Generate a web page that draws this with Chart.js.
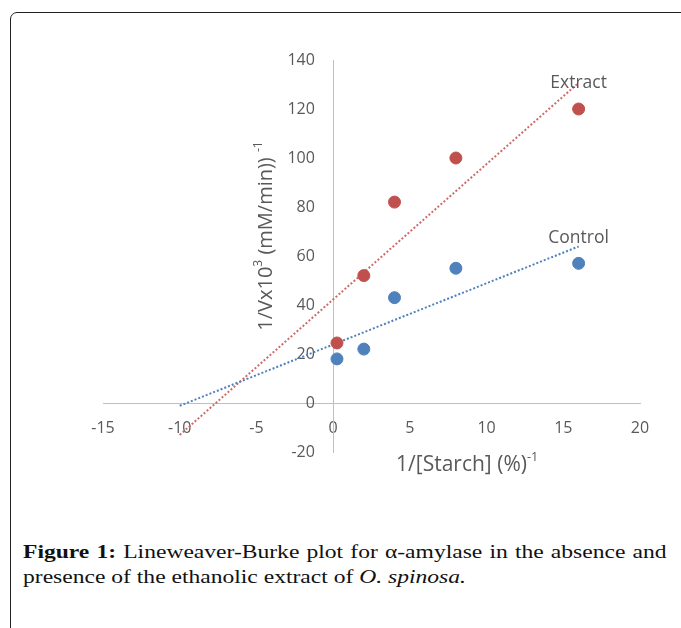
<!DOCTYPE html>
<html>
<head>
<meta charset="utf-8">
<script src="https://cdn.jsdelivr.net/npm/chart.js@4.4.1/dist/chart.umd.min.js"></script>
<style>
    html, body { margin: 0; padding: 0; background: #fff; }
    body { width: 681px; height: 628px; position: relative; overflow: hidden; }
    #frame {
        position: absolute; left: 10px; top: 12px; width: 720px; height: 700px;
        border: 1.5px solid #222; border-top-left-radius: 7px; box-sizing: border-box;
    }
    #chartBox { position: absolute; left: 0; top: 0; width: 681px; height: 500px; }
    #caption {
        position: absolute; left: 23px; top: 539px; width: 519px;
        transform: scaleX(1.24); transform-origin: 0 0;
        font-family: "Liberation Serif", "Times New Roman", serif; font-size: 19px;
        line-height: 25px; color: #111;
    }
    #caption .l1 { text-align: justify; text-align-last: justify; }
</style>
</head>
<body>
<div id="frame"></div>
<div id="chartBox"><canvas id="lbChart"></canvas></div>
<div id="caption">
    <div class="l1"><b>Figure 1:</b> Lineweaver-Burke plot for α-amylase in the absence and</div>
    <div>presence of the ethanolic extract of <i>O. spinosa.</i></div>
</div>

<script>
/*====================================
        Lineweaver-Burk data
====================================*/

const starchInv = [0.25, 2, 4, 8, 16];
const controlInvV = [18, 22, 43, 55, 57];
const extractInvV = [24.5, 52, 82, 100, 120];

const seriesNames = ["Control", "Extract"];
const xRange = [-15, 20];
const yRange = [-20, 140];
const trendRange = [-10, 16];

const blue = "#4f81bd";
const red = "#c0504d";

// least squares, like the Excel linear trendline
function fitLine(xs, ys) {
    const n = xs.length;
    const mx = xs.reduce((a, b) => a + b, 0) / n;
    const my = ys.reduce((a, b) => a + b, 0) / n;
    let sxy = 0, sxx = 0;
    xs.forEach((x, i) => {
        sxy += (x - mx) * (ys[i] - my);
        sxx += (x - mx) * (x - mx);
    });
    const slope = sxy / sxx;
    const icpt = my - slope * mx;
    return trendRange.map(x => ({ x: x, y: icpt + slope * x }));
}

function points(xs, ys) {
    return xs.map((x, i) => ({ x: x, y: ys[i] }));
}

// text with superscript parts, centred on the origin
function drawParts(ctx, parts, size) {
    let total = 0;
    parts.forEach(p => {
        ctx.font = (p.sup ? size * 0.6 : size) + "px 'Open Sans'";
        total += ctx.measureText(p.t).width;
    });
    let pos = -total / 2;
    parts.forEach(p => {
        ctx.font = (p.sup ? size * 0.6 : size) + "px 'Open Sans'";
        ctx.fillText(p.t, pos, p.sup ? -size * 0.36 : 0);
        pos += ctx.measureText(p.t).width;
    });
}

const labelsPlugin = {
    id: "labels",
    afterDatasetsDraw(chart) {
        const { ctx } = chart;
        const xs = chart.scales.x;
        const ys = chart.scales.y;
        const x0 = xs.getPixelForValue(0);
        const y0 = ys.getPixelForValue(0);

        ctx.save();
        ctx.fillStyle = "#595959";
        ctx.textAlign = "left";
        ctx.textBaseline = "middle";

        // trendline names
        const offsets = [-8, 0];
        [2, 3].forEach((di, k) => {
            const end = chart.data.datasets[di].data[1];
            ctx.save();
            ctx.translate(xs.getPixelForValue(end.x), ys.getPixelForValue(end.y) + offsets[k]);
            drawParts(ctx, [{ t: seriesNames[k] }], 17.5);
            ctx.restore();
        });

        // x title
        ctx.save();
        ctx.translate(x0 + 134, y0 + 62);
        drawParts(ctx, [{ t: "1/[Starch] (%)" }, { t: "-1", sup: true }], 21);
        ctx.restore();

        // y title
        ctx.save();
        ctx.translate(x0 - 67, 236);
        ctx.rotate(-Math.PI / 2);
        drawParts(ctx, [{ t: "1/Vx10" }, { t: "3", sup: true }, { t: " (mM/min)) " }, { t: "-1", sup: true }], 20);
        ctx.restore();

        ctx.restore();
    }
};

Chart.defaults.font.family = "'Open Sans', sans-serif";
Chart.defaults.font.size = 16;
Chart.defaults.color = "#595959";

new Chart(document.getElementById("lbChart"), {

    type: "scatter",

    data: {

        datasets: [
            {
                label: seriesNames[0],
                data: points(starchInv, controlInvV),
                backgroundColor: blue,
                borderColor: blue,
                pointRadius: 6,
                order: 1
            },
            {
                label: seriesNames[1],
                data: points(starchInv, extractInvV),
                backgroundColor: red,
                borderColor: red,
                pointRadius: 6,
                order: 1
            },
            {
                type: "line",
                label: seriesNames[0] + " trend",
                data: fitLine(starchInv, controlInvV),
                borderColor: blue,
                borderWidth: 2,
                borderDash: [2, 2],
                pointRadius: 0,
                order: 2
            },
            {
                type: "line",
                label: seriesNames[1] + " trend",
                data: fitLine(starchInv, extractInvV),
                borderColor: "#cf6a68",
                borderWidth: 2,
                borderDash: [2, 2],
                pointRadius: 0,
                order: 2
            }
        ]

    },

    options: {

        responsive: true,
        maintainAspectRatio: false,
        animation: false,

        layout: { padding: { left: 103, right: 41, top: 60, bottom: 48 } },

        plugins: {
            legend: { display: false },
            tooltip: { enabled: false }
        },

        scales: {
            x: {
                type: "linear",
                min: xRange[0],
                max: xRange[1],
                position: { y: 0 },
                grid: { display: false, drawTicks: false },
                border: { color: "#bfbfbf", width: 1 },
                ticks: { stepSize: 5, padding: 16 }
            },
            y: {
                type: "linear",
                min: yRange[0],
                max: yRange[1],
                position: { x: 0 },
                grid: { display: false, drawTicks: false },
                border: { color: "#bfbfbf", width: 1 },
                // labels sit right-aligned on the axis line, so pad with figure spaces
                ticks: { stepSize: 20, callback: v => v + "\u2007\u2007" }
            }
        }

    },

    plugins: [labelsPlugin]

});
</script>
</body>
</html>
